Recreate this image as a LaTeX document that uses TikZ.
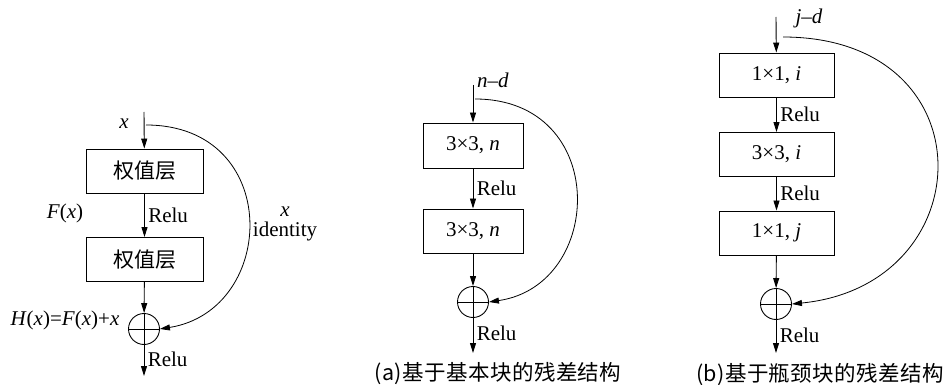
\documentclass[tikz,border=0pt]{standalone}
\usepackage{fontspec}
\setmainfont{Liberation Serif}
\newfontfamily\cjk{Noto Sans CJK SC}
\newfontfamily\cjkwide[LetterSpace=2]{Noto Sans CJK SC}
\usetikzlibrary{arrows.meta}

\begin{document}
\begin{tikzpicture}[x=1pt, y=-1pt, >={Triangle[length=10pt,width=6pt]}, line width=0.9pt,
  every node/.style={font=\fontsize{21}{24}\selectfont},
  layer/.style={draw, rectangle, inner sep=0pt, minimum height=44pt},
  sumnode/.style={draw, circle, minimum size=31pt, inner sep=0pt},
  captext/.style={font=\cjkwide\fontsize{21.5}{26}\selectfont}]
\useasboundingbox (0,0) rectangle (951,385);

% left: plain residual block
\coordinate (inA) at (144,112);
\coordinate (skA) at (146,125);
\coordinate (outA) at (144,376);
\node[layer, minimum width=117pt] (wA1) at (144.5,171) {\cjk 权值层};
\node[layer, minimum width=117pt] (wA2) at (144.5,259.5) {\cjk 权值层};
\node[sumnode] (sumA) at (144,329) {};
\node (xA) at (124,124) {\textit{x}};
\node (fA) at (65,213) {\textit{F}(\textit{x})};
\node (hA) at (65,320) {\textit{H}(\textit{x})=\textit{F}(\textit{x})+\textit{x}};
\node[align=center] (idA) at (285,224) {\textit{x}\\[-4pt]identity};

\draw[->] (inA) -- (wA1);
\draw[->] (wA1) -- node[right] {Relu} (wA2);
\draw[->] (wA2) -- (sumA);
\draw[->] (sumA) -- node[right, pos=0.45] {Relu} (outA);
\draw (sumA.north) -- (sumA.south) (sumA.west) -- (sumA.east);
\draw[->, line width=0.8pt] (skA) .. controls (283,125) and (278,310) .. (sumA.east);

% middle: basic block
\coordinate (inB) at (473,85);
\coordinate (skB) at (475,99);
\coordinate (outB) at (473,353);
\node[layer, minimum width=100pt, minimum height=45pt] (cB1) at (473,145.5) {3×3, \textit{n}};
\node[layer, minimum width=100pt] (cB2) at (473,231) {3×3, \textit{n}};
\node[sumnode] (sumB) at (473,302) {};
\node (ndB) at (493,80) {\textit{n}–\textit{d}};
\node[captext] (capB) at (498,374) {(a)基于基本块的残差结构};

\draw[->] (inB) -- (cB1);
\draw[->] (cB1) -- node[right] {Relu} (cB2);
\draw[->] (cB2) -- (sumB);
\draw[->] (sumB) -- node[right, pos=0.45] {Relu} (outB);
\draw (sumB.north) -- (sumB.south) (sumB.west) -- (sumB.east);
\draw[->, line width=0.8pt] (skB) .. controls (610,99) and (605,285) .. (sumB.east);

% right: bottleneck block
\coordinate (inC) at (776,17);
\coordinate (skC) at (783,37);
\coordinate (outC) at (776,353);
\node[layer, minimum width=115pt] (cC1) at (776.5,75) {1×1, \textit{i}};
\node[layer, minimum width=115pt] (cC2) at (776.5,154.5) {3×3, \textit{i}};
\node[layer, minimum width=115pt] (cC3) at (776.5,233) {1×1, \textit{j}};
\node[sumnode] (sumC) at (776,304) {};
\node (jdC) at (809,18) {\textit{j}–\textit{d}};
\node[captext] (capC) at (820,375) {(b)基于瓶颈块的残差结构};

\draw[->] (inC) -- (cC1);
\draw[->] (cC1) -- node[right] {Relu} (cC2);
\draw[->] (cC2) -- node[right] {Relu} (cC3);
\draw[->] (cC3) -- (sumC);
\draw[->] (sumC) -- node[right, pos=0.45] {Relu} (outC);
\draw (sumC.north) -- (sumC.south) (sumC.west) -- (sumC.east);
\draw[->, line width=0.8pt] (skC) .. controls (990,37) and (983,285) .. (sumC.east);
\end{tikzpicture}
\end{document}
